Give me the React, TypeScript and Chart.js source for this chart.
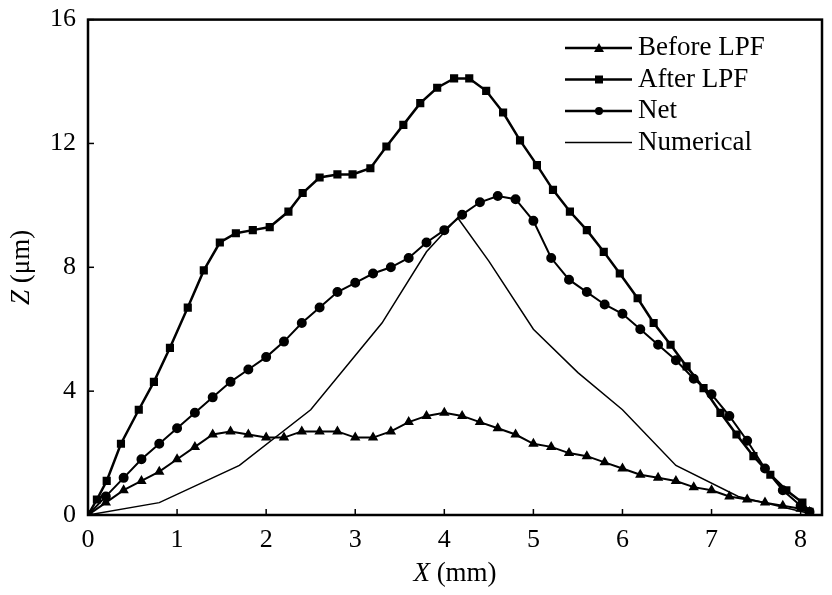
import React, { useEffect, useRef } from "react";
import { Chart, registerables } from "chart.js";
Chart.register(...registerables);

const xs = [0,0.2,0.4,0.6,0.8,1.0,1.2,1.4,1.6,1.8,2.0,2.2,2.4,2.6,2.8,3.0,3.2,3.4,3.6,3.8,4.0,4.2,4.4,4.6,4.8,5.0,5.2,5.4,5.6,5.8,6.0,6.2,6.4,6.6,6.8,7.0,7.2,7.4,7.6,7.8,8.0,8.1];
const beforeY = [0,0.4,0.8,1.1,1.4,1.8,2.2,2.6,2.7,2.6,2.5,2.5,2.7,2.7,2.7,2.5,2.5,2.7,3.0,3.2,3.3,3.2,3.0,2.8,2.6,2.3,2.2,2.0,1.9,1.7,1.5,1.3,1.2,1.1,0.9,0.8,0.6,0.5,0.4,0.3,0.2,0.1];
const netY = [0,0.6,1.2,1.8,2.3,2.8,3.3,3.8,4.3,4.7,5.1,5.6,6.2,6.7,7.2,7.5,7.8,8.0,8.3,8.8,9.2,9.7,10.1,10.3,10.2,9.5,8.3,7.6,7.2,6.8,6.5,6.0,5.5,5.0,4.4,3.9,3.2,2.4,1.5,0.8,0.3,0.1];
const afterX = [0,0.1,0.21,0.37,0.57,0.74,0.92,1.12,1.3,1.48,1.66,1.85,2.04,2.25,2.41,2.6,2.8,2.97,3.17,3.35,3.54,3.73,3.92,4.11,4.28,4.47,4.66,4.85,5.04,5.22,5.41,5.6,5.79,5.97,6.17,6.35,6.54,6.72,6.91,7.1,7.28,7.47,7.66,7.84,8.02,8.1];
const afterY = [0,0.5,1.1,2.3,3.4,4.3,5.4,6.7,7.9,8.8,9.1,9.2,9.3,9.8,10.4,10.9,11.0,11.0,11.2,11.9,12.6,13.3,13.8,14.1,14.1,13.7,13.0,12.1,11.3,10.5,9.8,9.2,8.5,7.8,7.0,6.2,5.5,4.8,4.1,3.3,2.6,1.9,1.3,0.8,0.4,0.1];
const numX = [0,0.8,1.7,2.5,3.3,3.8,4.15,4.5,5.0,5.5,6.0,6.6,7.3,8.1];
const numY = [0,0.4,1.6,3.4,6.2,8.5,9.6,8.2,6.0,4.6,3.4,1.6,0.6,0.05];
const xTicks = [0,1,2,3,4,5,6,7,8];
const yTicks = [0,4,8,12,16];
const legendLabels = ["Before LPF","After LPF","Net","Numerical"];

const pts = (x: number[], y: number[]) => x.map((v, i) => ({ x: v, y: y[i] }));
const FONT = "'Liberation Serif', 'DejaVu Serif', serif";

export default function App() {
  const ref = useRef<HTMLCanvasElement>(null);
  useEffect(() => {
    document.body.style.margin = "0";
    const styles = ["triangle","rect","circle",false] as const;
    const extras = {
      id: "extras",
      afterDraw(c: any) {
        const ctx = c.ctx; const a = c.chartArea;
        ctx.save();
        ctx.strokeStyle = "#000"; ctx.lineWidth = 2.5;
        ctx.strokeRect(a.left, a.top, a.right - a.left, a.bottom - a.top);
        // inward ticks
        ctx.lineWidth = 1.5;
        const sx = c.scales.x, sy = c.scales.y;
        xTicks.forEach(t => { const p = sx.getPixelForValue(t); ctx.beginPath(); ctx.moveTo(p, a.bottom); ctx.lineTo(p, a.bottom - 6); ctx.stroke(); });
        yTicks.forEach(t => { const p = sy.getPixelForValue(t); ctx.beginPath(); ctx.moveTo(a.left, p); ctx.lineTo(a.left + 6, p); ctx.stroke(); });
        // titles
        ctx.fillStyle = "#000"; ctx.textBaseline = "middle";
        ctx.font = "italic 27px " + FONT;
        const w1 = ctx.measureText("X").width;
        ctx.font = "27px " + FONT;
        const w2 = ctx.measureText(" (mm)").width;
        let x0 = (a.left + a.right) / 2 - (w1 + w2) / 2;
        ctx.textAlign = "left";
        ctx.font = "italic 27px " + FONT; ctx.fillText("X", x0, 574);
        ctx.font = "27px " + FONT; ctx.fillText(" (mm)", x0 + w1, 574);
        ctx.translate(22, (a.top + a.bottom) / 2); ctx.rotate(-Math.PI / 2);
        ctx.font = "italic 27px " + FONT;
        const w3 = ctx.measureText("Z").width;
        ctx.font = "27px " + FONT;
        const w4 = ctx.measureText(" (μm)").width;
        x0 = -(w3 + w4) / 2;
        ctx.font = "italic 27px " + FONT; ctx.fillText("Z", x0, 0);
        ctx.font = "27px " + FONT; ctx.fillText(" (μm)", x0 + w3, 0);
        ctx.setTransform(1,0,0,1,0,0);
        ctx.restore();
        ctx.save();
        const dpr = c.currentDevicePixelRatio || 1;
        ctx.scale(dpr, dpr);
        // legend
        ctx.font = "27px " + FONT; ctx.textBaseline = "middle"; ctx.fillStyle = "#000";
        legendLabels.forEach((lab, i) => {
          const y = 48 + i * 31.5;
          ctx.strokeStyle = "#000"; ctx.lineWidth = i === 3 ? 1.5 : 2.5;
          ctx.beginPath(); ctx.moveTo(565, y); ctx.lineTo(632, y); ctx.stroke();
          if (i < 3) {
            const cx = 599;
            ctx.beginPath();
            if (i === 0) { ctx.moveTo(cx, y - 5); ctx.lineTo(cx + 5, y + 4); ctx.lineTo(cx - 5, y + 4); ctx.closePath(); }
            else if (i === 1) { ctx.rect(cx - 4, y - 4, 8, 8); }
            else { ctx.arc(cx, y, 4, 0, Math.PI * 2); }
            ctx.fill();
          }
          ctx.fillText(lab, 638, y);
        });
        ctx.restore();
      },
    };
    const mk = (label: string, data: any[], ps: any, bw: number) => ({
      label, data, borderColor: "#000", backgroundColor: "#000", borderWidth: bw,
      pointStyle: ps, pointRadius: ps ? 4 : 0, tension: 0,
    });
    const chart = new Chart(ref.current!, {
      type: "line",
      data: {
        datasets: [
          mk(legendLabels[0], pts(xs, beforeY), styles[0], 2),
          mk(legendLabels[1], pts(afterX, afterY), styles[1], 2.5),
          mk(legendLabels[2], pts(xs, netY), styles[2], 2),
          mk(legendLabels[3], pts(numX, numY), false, 1.5),
        ],
      },
      options: {
        animation: false, responsive: false,
        layout: { padding: { top: 17, right: 10 } },
        plugins: { legend: { display: false }, tooltip: { enabled: false } },
        scales: {
          x: {
            type: "linear", min: 0, max: 8.24,
            afterFit: (s: any) => { s.height = 80; },
            afterBuildTicks: (s: any) => { s.ticks = xTicks.map(v => ({ value: v })); },
            grid: { display: false }, border: { display: false },
            ticks: { color: "#000", font: { family: FONT, size: 26 }, padding: 2 },
          },
          y: {
            min: 0, max: 16,
            afterFit: (s: any) => { s.width = 88; },
            afterBuildTicks: (s: any) => { s.ticks = yTicks.map(v => ({ value: v })); },
            grid: { display: false }, border: { display: false },
            ticks: { color: "#000", font: { family: FONT, size: 26 }, padding: 4 },
          },
        },
      },
      plugins: [extras],
    });
    return () => chart.destroy();
  }, []);
  return <canvas ref={ref} width={832} height={595} style={{ display: "block" }} />;
}
